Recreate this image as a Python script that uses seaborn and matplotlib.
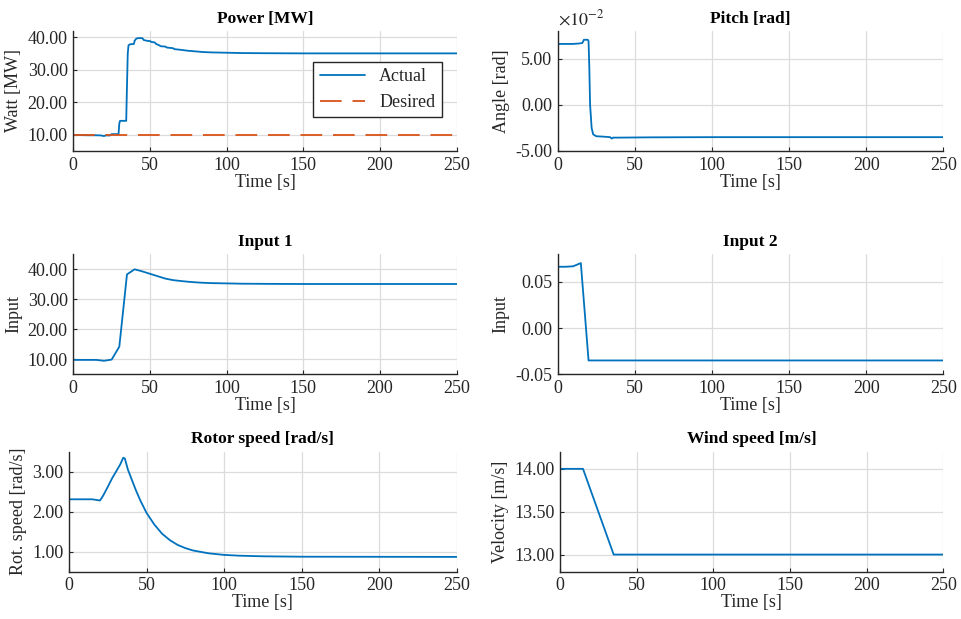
import numpy as np
import matplotlib
matplotlib.use('Agg')
import matplotlib.pyplot as plt
from matplotlib.ticker import FormatStrFormatter, FuncFormatter
import seaborn as sns

sns.set_theme(style='whitegrid')
plt.rcParams['font.family'] = ['Liberation Serif', 'DejaVu Serif']
plt.rcParams['mathtext.fontset'] = 'stix'
plt.rcParams['axes.unicode_minus'] = False

# ---- data ----
t_power = [0, 5, 10, 15, 18, 20, 21, 24, 25, 29.5, 30, 30.5, 34.5, 35, 35.5, 36, 37, 39.5,
           40, 41, 42, 45, 46, 48, 49, 50, 51, 53, 54, 56, 57, 60, 61, 65, 66, 70, 75, 80,
           85, 90, 100, 110, 125, 150, 200, 250]
power_actual = [9.9, 9.9, 9.85, 9.85, 9.8, 9.6, 9.8, 9.8, 10.2, 10.2, 13.5, 14.3, 14.3, 25,
                35, 37.6, 37.9, 38.0, 39.0, 39.6, 39.8, 39.8, 39.2, 39.0, 38.9, 38.9, 38.6,
                38.5, 38.0, 37.6, 37.3, 37.2, 36.9, 36.7, 36.4, 36.2, 35.9, 35.7, 35.5, 35.4,
                35.3, 35.2, 35.15, 35.1, 35.1, 35.1]
t_desired = [0, 250]
power_desired = [10, 10]

t_pitch = [0, 5, 10, 14, 16, 17, 19.5, 20, 20.5, 21, 22, 23, 25, 30, 34, 35, 36, 40, 60, 100, 250]
pitch = [0.066, 0.066, 0.066, 0.0665, 0.067, 0.0705, 0.0705, 0.069, 0.04, 0.0, -0.025,
         -0.032, -0.034, -0.0345, -0.035, -0.0365, -0.0355, -0.0355, -0.0352, -0.035, -0.035]

t_in1 = [0, 5, 10, 15, 20, 25, 30, 35, 40, 45, 50, 55, 60, 65, 70, 75, 80, 85, 90, 100,
         110, 125, 150, 200, 250]
input1 = [9.8, 9.8, 9.8, 9.8, 9.5, 9.9, 14.2, 38.3, 40.0, 39.3, 38.5, 37.7, 36.9, 36.4,
          36.1, 35.85, 35.65, 35.5, 35.4, 35.3, 35.2, 35.15, 35.1, 35.1, 35.1]

t_in2 = [0, 5, 10, 15, 20, 25, 50, 100, 250]
input2 = [0.0665, 0.0665, 0.067, 0.0705, -0.035, -0.035, -0.035, -0.035, -0.035]

t_rotor = [0, 5, 10, 15, 20, 22, 25, 28, 30, 33, 35, 36, 38, 40, 43, 46, 50, 55, 60, 65,
           70, 75, 80, 90, 100, 110, 125, 150, 250]
rotor = [2.31, 2.31, 2.31, 2.31, 2.28, 2.40, 2.62, 2.85, 2.98, 3.18, 3.35, 3.33, 3.05,
         2.85, 2.55, 2.28, 1.97, 1.68, 1.45, 1.29, 1.17, 1.09, 1.03, 0.96, 0.92, 0.90,
         0.885, 0.875, 0.87]

t_wind = [0, 15, 35, 250]
wind = [14.0, 14.0, 13.0, 13.0]

BLUE = '#0072BD'
ORANGE = '#D95319'
FS = 13
TFS = 12.5

fig = plt.figure(figsize=(9.61, 6.19), dpi=100)

# axes boxes in pixels: left, top, right, bottom
W, H = 961, 619
boxes = [(73.3, 31, 456.7, 151), (557.7, 31, 943.3, 151),
         (73.3, 254.3, 456.7, 374.3), (557.7, 254.3, 943.3, 374.3),
         (69, 451.7, 456.7, 571.7), (560, 451.7, 943.3, 571.7)]
axs = [fig.add_axes([l / W, 1 - b / H, (r - l) / W, (b - t) / H]) for l, t, r, b in boxes]

panels = [
    (t_power, power_actual, 'Power [MW]', 'Watt [MW]', (5, 42), [10, 20, 30, 40]),
    (t_pitch, pitch, 'Pitch [rad]', 'Angle [rad]', (-0.05, 0.08), [-0.05, 0, 0.05]),
    (t_in1, input1, 'Input 1', 'Input', (5, 45), [10, 20, 30, 40]),
    (t_in2, input2, 'Input 2', 'Input', (-0.05, 0.08), [-0.05, 0, 0.05]),
    (t_rotor, rotor, 'Rotor speed [rad/s]', 'Rot. speed [rad/s]', (0.5, 3.5), [1, 2, 3]),
    (t_wind, wind, 'Wind speed [m/s]', 'Velocity [m/s]', (12.8, 14.2), [13, 13.5, 14]),
]

for ax, (x, y, title, ylab, ylim, yt) in zip(axs, panels):
    sns.lineplot(x=x, y=y, ax=ax, color=BLUE, lw=1.3,
                 label='Actual' if title.startswith('Power') else None)
    ax.set_xlim(0, 250)
    ax.set_xticks([0, 50, 100, 150, 200, 250])
    ax.set_ylim(*ylim)
    ax.set_yticks(yt)
    ax.yaxis.set_major_formatter(FormatStrFormatter('%.2f'))
    ax.set_title(title, fontweight='bold', fontsize=TFS, pad=6, color='black')
    ax.set_xlabel('Time [s]', fontsize=FS, labelpad=0, color='#262626')
    ax.set_ylabel(ylab, fontsize=FS, labelpad=4, color='#262626')
    ax.tick_params(labelsize=FS, colors='#262626', direction='in', length=3,
                   width=0.8, pad=4, left=True, bottom=True)
    ax.grid(True, color='#dcdcdc', lw=0.9)
    for s in ['top', 'right']:
        ax.spines[s].set_visible(False)
    for s in ['left', 'bottom']:
        ax.spines[s].set_color('#262626')
        ax.spines[s].set_linewidth(1.0)
    ax.set_facecolor('white')

# desired power
sns.lineplot(x=t_desired, y=power_desired, ax=axs[0], color=ORANGE, lw=1.3,
             linestyle=(0, (12, 6)), label='Desired')
leg = axs[0].legend(loc='upper right', bbox_to_anchor=(0.961, 0.744), borderaxespad=0,
                    fontsize=FS, frameon=True, fancybox=False, framealpha=1,
                    edgecolor='#262626', handlelength=2.5, borderpad=0.35)
leg.get_frame().set_linewidth(1.0)

# pitch scaled by 1e-2
axs[1].yaxis.set_major_formatter(FuncFormatter(lambda v, p: '%.2f' % (v / 1e-2)))
axs[1].text(0, 1.02, r'$\times10^{-2}$', transform=axs[1].transAxes, ha='left',
            va='bottom', fontsize=FS, color='#262626')

fig.savefig('out.png', dpi=100, facecolor='white')
